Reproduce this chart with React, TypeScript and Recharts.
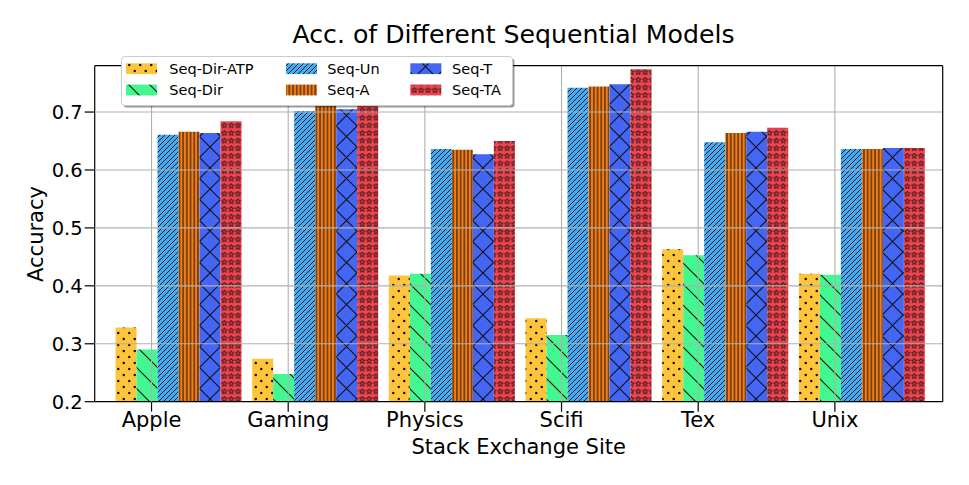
import React from "react";
import { BarChart, Bar, XAxis, YAxis, ReferenceLine, Legend } from "recharts";

// values (Gaming Seq-A / Seq-TA tops sit under the legend, estimated)
const SITES = ["Apple", "Gaming", "Physics", "Scifi", "Tex", "Unix"];
const SEQ_DIR_ATP = [0.328, 0.274, 0.418, 0.344, 0.463, 0.421];
const SEQ_DIR = [0.29, 0.248, 0.421, 0.315, 0.453, 0.419];
const SEQ_UN = [0.661, 0.702, 0.636, 0.742, 0.648, 0.636];
const SEQ_A = [0.666, 0.718, 0.635, 0.744, 0.664, 0.636];
const SEQ_T = [0.664, 0.705, 0.627, 0.748, 0.666, 0.638];
const SEQ_TA = [0.684, 0.724, 0.65, 0.774, 0.673, 0.638];
const Y_TICKS = [0.2, 0.3, 0.4, 0.5, 0.6, 0.7];
const Y_DOMAIN: [number, number] = [0.2, 0.78];

const SERIES = [
  { key: "dirAtp", name: "Seq-Dir-ATP", values: SEQ_DIR_ATP, color: "#ffc53a", hatch: "dots" },
  { key: "dir", name: "Seq-Dir", values: SEQ_DIR, color: "#42f891", hatch: "back" },
  { key: "un", name: "Seq-Un", values: SEQ_UN, color: "#45aaf2", hatch: "fwd" },
  { key: "a", name: "Seq-A", values: SEQ_A, color: "#f57d15", hatch: "vert" },
  { key: "t", name: "Seq-T", values: SEQ_T, color: "#4466f5", hatch: "cross" },
  { key: "ta", name: "Seq-TA", values: SEQ_TA, color: "#f2444e", hatch: "stars" },
];

const data = SITES.map((site, i) => {
  const row: Record<string, string | number> = { site };
  SERIES.forEach((s) => (row[s.key] = s.values[i]));
  return row;
});

const W = 969;
const H = 485;
const PLOT_TOP = 65.7;
const PLOT_BOTTOM = 401.7;
const MARGIN = { top: PLOT_TOP, right: 26.3, bottom: 0, left: 0 };
const X_PAD = { left: 14, right: 14 };
const Y_WIDTH = 94.7;
const TICK_SHIFT = -25.5; // matplotlib ticks sit left of the group centre
const INK = "#111";
const GRID = "#b0b0b0";
const FONT = "'DejaVu Sans', sans-serif";
const SPINE = { stroke: "#000", strokeWidth: 1.2 };

function starPath(cx: number, cy: number, ro: number, ri: number) {
  const pts: string[] = [];
  for (let k = 0; k < 10; k++) {
    const r = k % 2 === 0 ? ro : ri;
    const a = (-90 + k * 36) * (Math.PI / 180);
    pts.push(`${(cx + r * Math.cos(a)).toFixed(2)},${(cy + r * Math.sin(a)).toFixed(2)}`);
  }
  return "M" + pts.join("L") + "Z";
}

function hatchDefs() {
  const c = (k: string) => SERIES.find((s) => s.hatch === k)!.color;
  return (
    <defs>
      <pattern id="dots" patternUnits="userSpaceOnUse" width={11} height={12}>
        <rect width={11} height={12} fill={c("dots")} />
        <circle cx={2.75} cy={3} r={1.25} fill={INK} />
        <circle cx={8.25} cy={9} r={1.25} fill={INK} />
      </pattern>
      <pattern id="back" patternUnits="userSpaceOnUse" width={21} height={21}>
        <rect width={21} height={21} fill={c("back")} />
        <path d="M0,0L21,21M-1,20L1,22M20,-1L22,1" stroke={INK} strokeWidth={1.1} />
      </pattern>
      <pattern id="fwd" patternUnits="userSpaceOnUse" width={5} height={5}>
        <rect width={5} height={5} fill={c("fwd")} />
        <path d="M0,5L5,0M-1,1L1,-1M4,6L6,4" stroke={INK} strokeWidth={0.9} />
      </pattern>
      <pattern id="vert" patternUnits="userSpaceOnUse" width={3.7} height={10}>
        <rect width={3.7} height={10} fill={c("vert")} />
        <line x1={1.85} y1={0} x2={1.85} y2={10} stroke={INK} strokeWidth={1} />
      </pattern>
      <pattern id="cross" patternUnits="userSpaceOnUse" width={21} height={21}>
        <rect width={21} height={21} fill={c("cross")} />
        <path
          d="M0,0L21,21M-1,20L1,22M20,-1L22,1M0,21L21,0M-1,1L1,-1M20,22L22,20"
          stroke={INK}
          strokeWidth={1.1}
        />
      </pattern>
      <pattern id="stars" patternUnits="userSpaceOnUse" width={6.9} height={7.6}>
        <rect width={6.9} height={7.6} fill={c("stars")} />
        <path d={starPath(3.45, 3.9, 2.9, 1.2)} fill="none" stroke={INK} strokeWidth={0.9} />
      </pattern>
    </defs>
  );
}

function SiteTick(props: any) {
  const { x, payload } = props;
  const tx = x + TICK_SHIFT;
  return (
    <g>
      <line x1={tx} x2={tx} y1={PLOT_BOTTOM} y2={PLOT_BOTTOM + 10} stroke="#000" strokeWidth={1.2} />
      <text x={tx} y={PLOT_BOTTOM + 25.5} textAnchor="middle" fontSize={21} fill="#000">
        {payload.value}
      </text>
    </g>
  );
}

function ShiftedGridLine(props: any) {
  const { x1, x2, y1, y2 } = props;
  return <line x1={x1 + TICK_SHIFT} x2={x2 + TICK_SHIFT} y1={y1} y2={y2} stroke={GRID} strokeWidth={1.1} />;
}

const LEG_COL_PATCH = [5, 165, 289.3];
const LEG_COL_TEXT = [48.3, 206.3, 331];
const LEG_ROW = [12.7, 34];

function HatchLegend() {
  return (
    <svg width={398} height={56} style={{ overflow: "visible", display: "block" }}>
      <rect x={2.5} y={2.5} width={391} height={49} rx={3} fill="rgba(0,0,0,0.4)" />
      <rect x={0.5} y={0.5} width={391} height={49} rx={3} fill="#fff" stroke="#cccccc" />
      {SERIES.map((s, i) => {
        const col = Math.floor(i / 2);
        const row = i % 2;
        const cy = LEG_ROW[row];
        return (
          <g key={s.key}>
            <rect x={LEG_COL_PATCH[col]} y={cy - 5.4} width={31} height={10.8} fill={`url(#${s.hatch})`} />
            <text x={LEG_COL_TEXT[col]} y={cy} dy="0.36em" fontSize={14.5} fill="#000" fontFamily={FONT}>
              {s.name}
            </text>
          </g>
        );
      })}
    </svg>
  );
}

// bars, ticks and axis titles
function MainChart() {
  return (
    <BarChart width={W} height={H} data={data} margin={MARGIN} barCategoryGap="5%" barGap={0}>
      {hatchDefs()}
      <XAxis
        dataKey="site"
        type="category"
        padding={X_PAD}
        height={H - PLOT_BOTTOM}
        interval={0}
        tickLine={false}
        tick={(p: any) => <SiteTick {...p} />}
        axisLine={SPINE}
        label={{ value: "Stack Exchange Site", position: "insideBottom", offset: 31, fontSize: 21, fill: "#000" }}
      />
      <YAxis
        type="number"
        domain={Y_DOMAIN}
        allowDataOverflow
        ticks={Y_TICKS}
        interval={0}
        width={Y_WIDTH}
        tickFormatter={(v: number) => v.toFixed(1)}
        tick={{ fontSize: 19.5, fill: "#000" }}
        tickSize={10}
        tickMargin={2}
        tickLine={SPINE}
        axisLine={SPINE}
        label={{
          content: () => (
            <text transform="translate(42.5,234) rotate(-90)" textAnchor="middle" fontSize={21} fill="#000">
              Accuracy
            </text>
          ),
        }}
      />
      {SERIES.map((s) => (
        <Bar key={s.key} dataKey={s.key} name={s.name} fill={`url(#${s.hatch})`} isAnimationActive={false} />
      ))}
    </BarChart>
  );
}

// same layout, drawn on top: grid lines over the bars, the frame, and the legend
function OverlayChart() {
  return (
    <BarChart width={W} height={H} data={data} margin={MARGIN} barCategoryGap="5%" barGap={0}>
      <XAxis
        dataKey="site"
        type="category"
        padding={X_PAD}
        height={H - PLOT_BOTTOM}
        interval={0}
        tick={false}
        tickLine={false}
        axisLine={false}
      />
      {/* unpadded twin axis, only used to find the right edge of the frame */}
      <XAxis xAxisId="frame" dataKey="site" type="category" hide />
      <YAxis
        type="number"
        domain={Y_DOMAIN}
        allowDataOverflow
        ticks={Y_TICKS}
        width={Y_WIDTH}
        tick={false}
        tickLine={false}
        axisLine={false}
      />
      {Y_TICKS.slice(1).map((v) => (
        <ReferenceLine key={`gy${v}`} y={v} stroke={GRID} strokeWidth={1.1} />
      ))}
      {SITES.map((s) => (
        <ReferenceLine key={`gx${s}`} x={s} shape={(p: any) => <ShiftedGridLine {...p} />} />
      ))}
      <ReferenceLine y={Y_DOMAIN[1]} ifOverflow="visible" {...SPINE} />
      <ReferenceLine
        xAxisId="frame"
        x={SITES[SITES.length - 1]}
        position="end"
        ifOverflow="visible"
        {...SPINE}
      />
      <Legend
        verticalAlign="middle"
        align="center"
        layout="horizontal"
        content={() => <HatchLegend />}
        wrapperStyle={{ left: 121.2, top: 55.5, width: 400, height: 56 }}
      />
    </BarChart>
  );
}

export default function App() {
  return (
    <div style={{ position: "absolute", left: 0, top: 0, width: W, height: H, background: "#fff", fontFamily: FONT }}>
      <div style={{ position: "absolute", left: 0, top: 0 }}>
        <MainChart />
      </div>
      <div style={{ position: "absolute", left: 0, top: 0 }}>
        <OverlayChart />
      </div>
      <svg width={W} height={60} style={{ position: "absolute", left: 0, top: 0, pointerEvents: "none" }}>
        <text x={513.5} y={43.3} textAnchor="middle" fontSize={25.2} fill="#000" fontFamily={FONT}>
          Acc. of Different Sequential Models
        </text>
      </svg>
    </div>
  );
}
